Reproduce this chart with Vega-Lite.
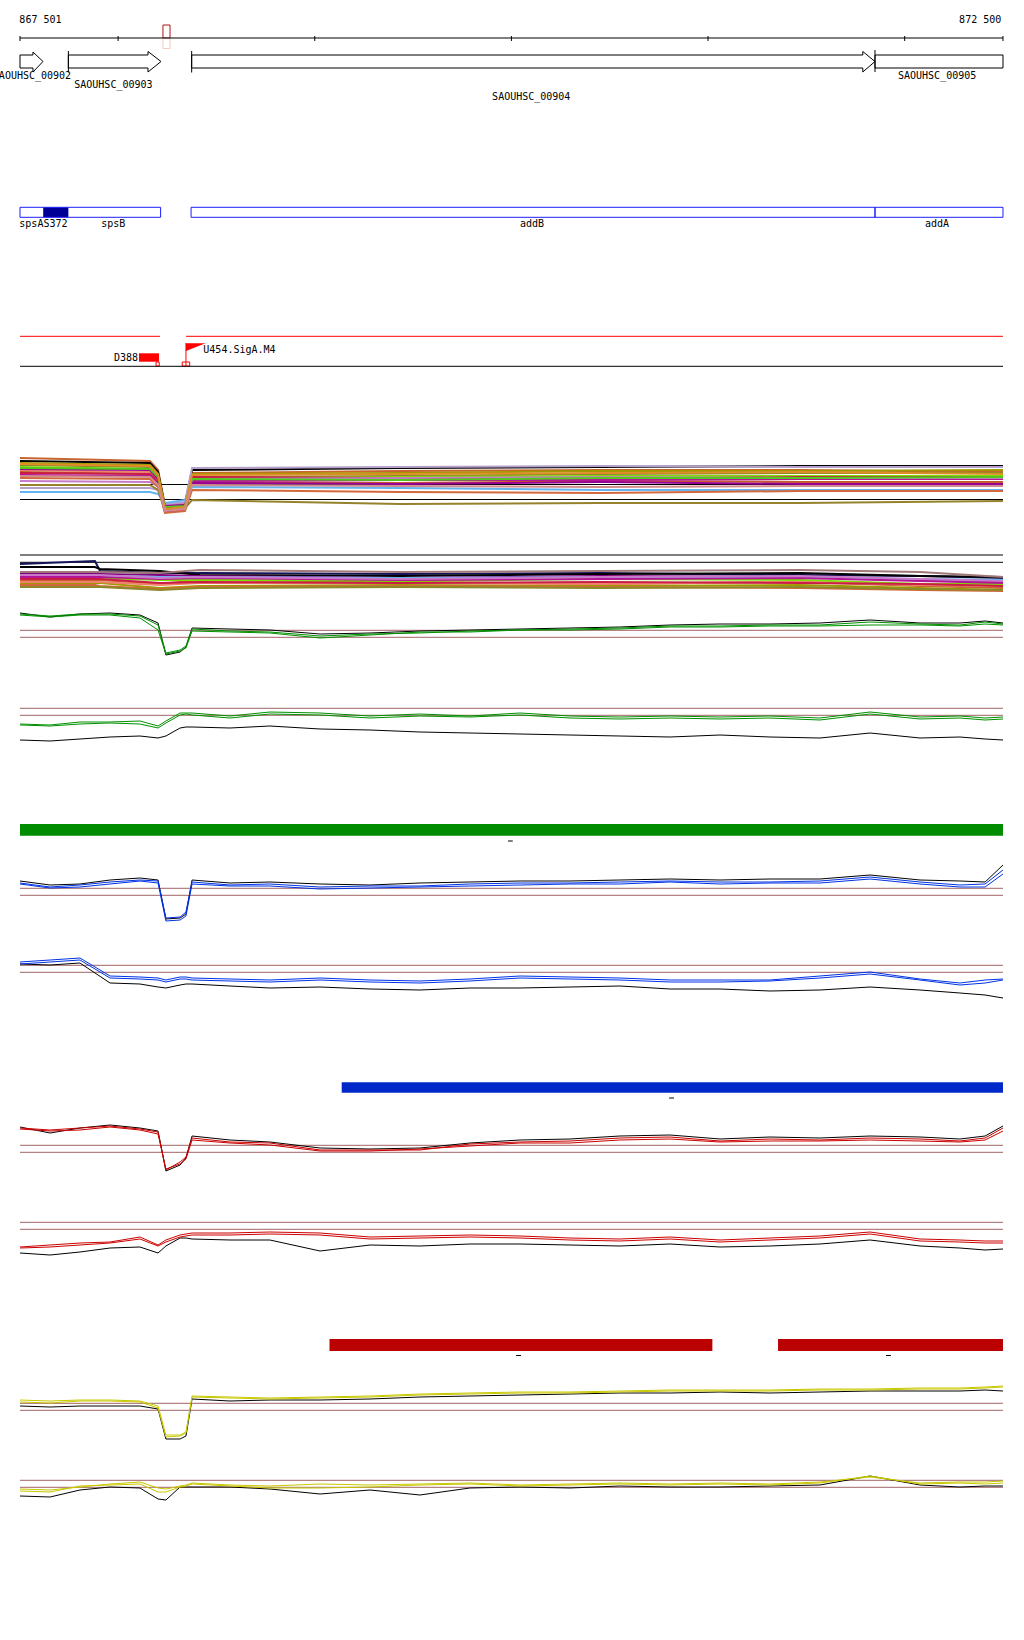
{
"$schema":"https://vega.github.io/schema/vega-lite/v6.json",
"width":1024,"height":1640,"autosize":{"type":"none"},"padding":0,
"background":"white",
"config":{"view":{"stroke":null}},
"datasets":{
"rules":[
{"k":"a","x":867501,"x2":872500,"y":38,"y2":38},
{"k":"a","x":867501,"x2":867501,"y":36,"y2":41},
{"k":"a","x":868000,"x2":868000,"y":36,"y2":41},
{"k":"a","x":869000,"x2":869000,"y":36,"y2":41},
{"k":"a","x":870000,"x2":870000,"y":36,"y2":41},
{"k":"a","x":871000,"x2":871000,"y":36,"y2":41},
{"k":"a","x":872000,"x2":872000,"y":36,"y2":41},
{"k":"a","x":872500,"x2":872500,"y":36,"y2":41},
{"k":"a","x":867747,"x2":867747,"y":51,"y2":72.5},
{"k":"a","x":868374,"x2":868374,"y":51,"y2":72.5},
{"k":"a","x":871849,"x2":871849,"y":50,"y2":72},
{"k":"f","x":867501,"x2":868213,"y":336.3,"y2":336.3},
{"k":"f","x":868345,"x2":872500,"y":336.3,"y2":336.3},
{"k":"a","x":867501,"x2":872500,"y":366.3,"y2":366.3},
{"k":"f","x":868345,"x2":868345,"y":343,"y2":366},
{"k":"a","x":867501,"x2":872500,"y":484.5,"y2":484.5},
{"k":"a","x":867501,"x2":872500,"y":499.5,"y2":499.5},
{"k":"a","x":867501,"x2":872500,"y":555,"y2":555},
{"k":"a","x":867501,"x2":872500,"y":562.3,"y2":562.3},
{"k":"r","x":867501,"x2":872500,"y":630.3,"y2":630.3},
{"k":"r","x":867501,"x2":872500,"y":637.3,"y2":637.3},
{"k":"r","x":867501,"x2":872500,"y":708.3,"y2":708.3},
{"k":"r","x":867501,"x2":872500,"y":715.3,"y2":715.3},
{"k":"r","x":867501,"x2":872500,"y":888.3,"y2":888.3},
{"k":"r","x":867501,"x2":872500,"y":895.3,"y2":895.3},
{"k":"r","x":867501,"x2":872500,"y":965.3,"y2":965.3},
{"k":"r","x":867501,"x2":872500,"y":972.3,"y2":972.3},
{"k":"r","x":867501,"x2":872500,"y":1145.3,"y2":1145.3},
{"k":"r","x":867501,"x2":872500,"y":1152.3,"y2":1152.3},
{"k":"r","x":867501,"x2":872500,"y":1222.3,"y2":1222.3},
{"k":"r","x":867501,"x2":872500,"y":1229.3,"y2":1229.3},
{"k":"r","x":867501,"x2":872500,"y":1403.3,"y2":1403.3},
{"k":"r","x":867501,"x2":872500,"y":1410.3,"y2":1410.3},
{"k":"r","x":867501,"x2":872500,"y":1480.3,"y2":1480.3},
{"k":"r","x":867501,"x2":872500,"y":1487.3,"y2":1487.3},
{"k":"a","x":869983,"x2":870007,"y":841,"y2":841},
{"k":"a","x":870802,"x2":870827,"y":1098,"y2":1098},
{"k":"a","x":870024,"x2":870049,"y":1355.5,"y2":1355.5},
{"k":"a","x":871905,"x2":871930,"y":1355.5,"y2":1355.5}
],
"boxes":[
{"k":"c1","x":867501,"x2":872500,"y":824,"y2":835.7},
{"k":"c2","x":869137,"x2":872500,"y":1082.3,"y2":1092.7},
{"k":"c3","x":869075,"x2":871022,"y":1339,"y2":1351},
{"k":"c3","x":871356,"x2":872500,"y":1339,"y2":1351},
{"k":"D388","x":868106,"x2":868208,"y":353.3,"y2":361.7},
{"k":"spsA","x":867619,"x2":867747,"y":207.3,"y2":217.3}
],
"frames":[
{"k":"cds","x":867501,"x2":868216,"y":207.3,"y2":217.3},
{"k":"cds","x":868371,"x2":871849,"y":207.3,"y2":217.3},
{"k":"cds","x":871849,"x2":872500,"y":207.3,"y2":217.3},
{"k":"view","x":868228,"x2":868264,"y":25,"y2":38},
{"k":"view2","x":868228,"x2":868264,"y":38.5,"y2":48.5},
{"k":"site","x":868193,"x2":868209,"y":362,"y2":366},
{"k":"site","x":868326,"x2":868364,"y":362,"y2":366}
],
"genes":[
{"id":"902","o":1,"x":867501,"y":55},{"id":"902","o":2,"x":867567,"y":55},{"id":"902","o":3,"x":867567,"y":52},{"id":"902","o":4,"x":867618,"y":61.5},{"id":"902","o":5,"x":867567,"y":72},{"id":"902","o":6,"x":867567,"y":68},{"id":"902","o":7,"x":867501,"y":68},{"id":"902","o":8,"x":867501,"y":55},
{"id":"903","o":1,"x":867747,"y":55},{"id":"903","o":2,"x":868152,"y":55},{"id":"903","o":3,"x":868152,"y":51.5},{"id":"903","o":4,"x":868218,"y":61.5},{"id":"903","o":5,"x":868152,"y":72},{"id":"903","o":6,"x":868152,"y":68},{"id":"903","o":7,"x":867747,"y":68},{"id":"903","o":8,"x":867747,"y":55},
{"id":"904","o":1,"x":868374,"y":55},{"id":"904","o":2,"x":871787,"y":55},{"id":"904","o":3,"x":871787,"y":51.5},{"id":"904","o":4,"x":871849,"y":61.5},{"id":"904","o":5,"x":871787,"y":72},{"id":"904","o":6,"x":871787,"y":68},{"id":"904","o":7,"x":868374,"y":68},{"id":"904","o":8,"x":868374,"y":55},
{"id":"905","o":1,"x":871849,"y":55},{"id":"905","o":2,"x":872500,"y":55},{"id":"905","o":3,"x":872500,"y":68},{"id":"905","o":4,"x":871849,"y":68},{"id":"905","o":5,"x":871849,"y":55}
],
"flag":[{"x":868345,"y":343.3,"y2":351},{"x":868445,"y":343.3,"y2":343.3}],
"labels":[
{"t":"867 501","x":867605,"y":20},
{"t":"872 500","x":872384,"y":20},
{"t":"SAOUHSC_00902","x":867562,"y":76},
{"t":"SAOUHSC_00903","x":867976,"y":85},
{"t":"SAOUHSC_00904","x":870101,"y":97},
{"t":"SAOUHSC_00905","x":872165,"y":76},
{"t":"spsAS372","x":867620,"y":224},
{"t":"spsB","x":867975,"y":224},
{"t":"addB","x":870105,"y":224},
{"t":"addA","x":872164,"y":224},
{"t":"D388","x":868040,"y":358},
{"t":"U454.SigA.M4","x":868617,"y":350}
],
"mlines":[
{"s":"m1","x":867501,"y":458},{"s":"m1","x":868162,"y":461},{"s":"m1","x":868203,"y":470},{"s":"m1","x":868238,"y":505},{"s":"m1","x":868340,"y":505},{"s":"m1","x":868376,"y":473},{"s":"m1","x":869433,"y":471},{"s":"m1","x":870451,"y":470},{"s":"m1","x":871468,"y":470},{"s":"m1","x":872500,"y":472},
{"s":"m2","x":867501,"y":461},{"s":"m2","x":868162,"y":463},{"s":"m2","x":868203,"y":472},{"s":"m2","x":868238,"y":507},{"s":"m2","x":868340,"y":504},{"s":"m2","x":868376,"y":470},{"s":"m2","x":869433,"y":468},{"s":"m2","x":870451,"y":467},{"s":"m2","x":871468,"y":466},{"s":"m2","x":872500,"y":466},
{"s":"m3","x":867501,"y":463},{"s":"m3","x":868162,"y":465},{"s":"m3","x":868203,"y":474},{"s":"m3","x":868238,"y":508},{"s":"m3","x":868340,"y":506},{"s":"m3","x":868376,"y":474},{"s":"m3","x":869433,"y":473},{"s":"m3","x":870451,"y":471},{"s":"m3","x":871468,"y":471},{"s":"m3","x":872500,"y":470},
{"s":"m4","x":867501,"y":465},{"s":"m4","x":868162,"y":467},{"s":"m4","x":868203,"y":476},{"s":"m4","x":868238,"y":506},{"s":"m4","x":868340,"y":505},{"s":"m4","x":868376,"y":477},{"s":"m4","x":869433,"y":476},{"s":"m4","x":870451,"y":474},{"s":"m4","x":871468,"y":473},{"s":"m4","x":872500,"y":473},
{"s":"m5","x":867501,"y":467},{"s":"m5","x":868162,"y":469},{"s":"m5","x":868203,"y":478},{"s":"m5","x":868238,"y":509},{"s":"m5","x":868340,"y":507},{"s":"m5","x":868376,"y":478},{"s":"m5","x":869433,"y":477},{"s":"m5","x":870451,"y":476},{"s":"m5","x":871468,"y":476},{"s":"m5","x":872500,"y":476},
{"s":"m6","x":867501,"y":470},{"s":"m6","x":868162,"y":472},{"s":"m6","x":868203,"y":480},{"s":"m6","x":868238,"y":510},{"s":"m6","x":868340,"y":508},{"s":"m6","x":868376,"y":480},{"s":"m6","x":869433,"y":479},{"s":"m6","x":870451,"y":478},{"s":"m6","x":871468,"y":478},{"s":"m6","x":872500,"y":478},
{"s":"m7","x":867501,"y":472},{"s":"m7","x":868162,"y":474},{"s":"m7","x":868203,"y":482},{"s":"m7","x":868238,"y":511},{"s":"m7","x":868340,"y":509},{"s":"m7","x":868376,"y":482},{"s":"m7","x":869433,"y":483},{"s":"m7","x":870451,"y":481},{"s":"m7","x":871468,"y":482},{"s":"m7","x":872500,"y":482},
{"s":"m8","x":867501,"y":473},{"s":"m8","x":868162,"y":474},{"s":"m8","x":868203,"y":483},{"s":"m8","x":868238,"y":508},{"s":"m8","x":868340,"y":507},{"s":"m8","x":868376,"y":477},{"s":"m8","x":869433,"y":478},{"s":"m8","x":870451,"y":479},{"s":"m8","x":871468,"y":477},{"s":"m8","x":872500,"y":477},
{"s":"m9","x":867501,"y":475},{"s":"m9","x":868162,"y":476},{"s":"m9","x":868203,"y":484},{"s":"m9","x":868238,"y":512},{"s":"m9","x":868340,"y":510},{"s":"m9","x":868376,"y":481},{"s":"m9","x":869433,"y":480},{"s":"m9","x":870451,"y":480},{"s":"m9","x":871468,"y":479},{"s":"m9","x":872500,"y":479},
{"s":"m10","x":867501,"y":481},{"s":"m10","x":868162,"y":482},{"s":"m10","x":868203,"y":486},{"s":"m10","x":868238,"y":505},{"s":"m10","x":868340,"y":503},{"s":"m10","x":868376,"y":479},{"s":"m10","x":869433,"y":478},{"s":"m10","x":870451,"y":477},{"s":"m10","x":871468,"y":478},{"s":"m10","x":872500,"y":478},
{"s":"m11","x":867501,"y":488},{"s":"m11","x":868162,"y":488},{"s":"m11","x":868203,"y":490},{"s":"m11","x":868238,"y":504},{"s":"m11","x":868340,"y":502},{"s":"m11","x":868376,"y":468},{"s":"m11","x":869433,"y":467},{"s":"m11","x":870451,"y":466},{"s":"m11","x":871468,"y":467},{"s":"m11","x":872500,"y":467},
{"s":"m12","x":867501,"y":492},{"s":"m12","x":868162,"y":492},{"s":"m12","x":868203,"y":494},{"s":"m12","x":868238,"y":503},{"s":"m12","x":868340,"y":500},{"s":"m12","x":868376,"y":487},{"s":"m12","x":869433,"y":488},{"s":"m12","x":870451,"y":490},{"s":"m12","x":871468,"y":490},{"s":"m12","x":872500,"y":490},
{"s":"m13","x":867501,"y":478},{"s":"m13","x":868162,"y":479},{"s":"m13","x":868203,"y":487},{"s":"m13","x":868238,"y":513},{"s":"m13","x":868340,"y":511},{"s":"m13","x":868376,"y":490},{"s":"m13","x":869433,"y":492},{"s":"m13","x":870451,"y":493},{"s":"m13","x":871468,"y":491},{"s":"m13","x":872500,"y":491},
{"s":"m14","x":867501,"y":469},{"s":"m14","x":868162,"y":470},{"s":"m14","x":868203,"y":479},{"s":"m14","x":868238,"y":506},{"s":"m14","x":868340,"y":505},{"s":"m14","x":868376,"y":483},{"s":"m14","x":869433,"y":484},{"s":"m14","x":870451,"y":482},{"s":"m14","x":871468,"y":484},{"s":"m14","x":872500,"y":484},
{"s":"m15","x":867501,"y":485},{"s":"m15","x":868162,"y":485},{"s":"m15","x":868203,"y":490},{"s":"m15","x":868238,"y":510},{"s":"m15","x":868340,"y":508},{"s":"m15","x":868376,"y":500},{"s":"m15","x":869433,"y":504},{"s":"m15","x":870451,"y":503},{"s":"m15","x":871468,"y":503},{"s":"m15","x":872500,"y":501},
{"s":"m16","x":867501,"y":468},{"s":"m16","x":868162,"y":469},{"s":"m16","x":868203,"y":477},{"s":"m16","x":868238,"y":507},{"s":"m16","x":868340,"y":506},{"s":"m16","x":868376,"y":479},{"s":"m16","x":869433,"y":480},{"s":"m16","x":870451,"y":478},{"s":"m16","x":871468,"y":478},{"s":"m16","x":872500,"y":477},
{"s":"m17","x":867501,"y":464},{"s":"m17","x":868162,"y":466},{"s":"m17","x":868203,"y":475},{"s":"m17","x":868238,"y":509},{"s":"m17","x":868340,"y":507},{"s":"m17","x":868376,"y":475},{"s":"m17","x":869433,"y":474},{"s":"m17","x":870451,"y":473},{"s":"m17","x":871468,"y":472},{"s":"m17","x":872500,"y":474},
{"s":"m18","x":867501,"y":476},{"s":"m18","x":868162,"y":477},{"s":"m18","x":868203,"y":485},{"s":"m18","x":868238,"y":511},{"s":"m18","x":868340,"y":509},{"s":"m18","x":868376,"y":485},{"s":"m18","x":869433,"y":486},{"s":"m18","x":870451,"y":487},{"s":"m18","x":871468,"y":486},{"s":"m18","x":872500,"y":486},
{"s":"n1","x":867501,"y":564},{"s":"n1","x":867882,"y":561},{"s":"n1","x":867908,"y":571},{"s":"n1","x":868213,"y":573},{"s":"n1","x":868416,"y":573},{"s":"n1","x":869433,"y":574},{"s":"n1","x":870451,"y":573},{"s":"n1","x":871468,"y":575},{"s":"n1","x":872078,"y":576},{"s":"n1","x":872500,"y":578},
{"s":"n2","x":867501,"y":567},{"s":"n2","x":867882,"y":567},{"s":"n2","x":867908,"y":569},{"s":"n2","x":868213,"y":571},{"s":"n2","x":868416,"y":575},{"s":"n2","x":869433,"y":576},{"s":"n2","x":870451,"y":574},{"s":"n2","x":871468,"y":573},{"s":"n2","x":872078,"y":576},{"s":"n2","x":872500,"y":577},
{"s":"n3","x":867501,"y":574},{"s":"n3","x":867882,"y":574},{"s":"n3","x":867908,"y":574},{"s":"n3","x":868213,"y":575},{"s":"n3","x":868416,"y":576},{"s":"n3","x":869433,"y":578},{"s":"n3","x":870451,"y":576},{"s":"n3","x":871468,"y":577},{"s":"n3","x":872078,"y":580},{"s":"n3","x":872500,"y":582},
{"s":"n4","x":867501,"y":576},{"s":"n4","x":867882,"y":576},{"s":"n4","x":867908,"y":576},{"s":"n4","x":868213,"y":577},{"s":"n4","x":868416,"y":577},{"s":"n4","x":869433,"y":578},{"s":"n4","x":870451,"y":577},{"s":"n4","x":871468,"y":578},{"s":"n4","x":872078,"y":579},{"s":"n4","x":872500,"y":580},
{"s":"n5","x":867501,"y":580},{"s":"n5","x":867882,"y":580},{"s":"n5","x":867908,"y":580},{"s":"n5","x":868213,"y":584},{"s":"n5","x":868416,"y":580},{"s":"n5","x":869433,"y":582},{"s":"n5","x":870451,"y":584},{"s":"n5","x":871468,"y":582},{"s":"n5","x":872078,"y":586},{"s":"n5","x":872500,"y":588},
{"s":"n6","x":867501,"y":583},{"s":"n6","x":867882,"y":583},{"s":"n6","x":867908,"y":583},{"s":"n6","x":868213,"y":588},{"s":"n6","x":868416,"y":586},{"s":"n6","x":869433,"y":585},{"s":"n6","x":870451,"y":586},{"s":"n6","x":871468,"y":585},{"s":"n6","x":872078,"y":588},{"s":"n6","x":872500,"y":590},
{"s":"n7","x":867501,"y":578},{"s":"n7","x":867882,"y":578},{"s":"n7","x":867908,"y":578},{"s":"n7","x":868213,"y":580},{"s":"n7","x":868416,"y":580},{"s":"n7","x":869433,"y":581},{"s":"n7","x":870451,"y":579},{"s":"n7","x":871468,"y":580},{"s":"n7","x":872078,"y":584},{"s":"n7","x":872500,"y":584},
{"s":"n8","x":867501,"y":582},{"s":"n8","x":867882,"y":582},{"s":"n8","x":867908,"y":582},{"s":"n8","x":868213,"y":585},{"s":"n8","x":868416,"y":583},{"s":"n8","x":869433,"y":583},{"s":"n8","x":870451,"y":584},{"s":"n8","x":871468,"y":582},{"s":"n8","x":872078,"y":585},{"s":"n8","x":872500,"y":586},
{"s":"n9","x":867501,"y":577},{"s":"n9","x":867882,"y":577},{"s":"n9","x":867908,"y":577},{"s":"n9","x":868213,"y":579},{"s":"n9","x":868416,"y":578},{"s":"n9","x":869433,"y":580},{"s":"n9","x":870451,"y":579},{"s":"n9","x":871468,"y":578},{"s":"n9","x":872078,"y":581},{"s":"n9","x":872500,"y":583},
{"s":"n10","x":867501,"y":579},{"s":"n10","x":867882,"y":579},{"s":"n10","x":867908,"y":579},{"s":"n10","x":868213,"y":583},{"s":"n10","x":868416,"y":582},{"s":"n10","x":869433,"y":583},{"s":"n10","x":870451,"y":582},{"s":"n10","x":871468,"y":583},{"s":"n10","x":872078,"y":584},{"s":"n10","x":872500,"y":586},
{"s":"n11","x":867501,"y":585},{"s":"n11","x":867882,"y":585},{"s":"n11","x":867908,"y":586},{"s":"n11","x":868213,"y":589},{"s":"n11","x":868416,"y":587},{"s":"n11","x":869433,"y":586},{"s":"n11","x":870451,"y":587},{"s":"n11","x":871468,"y":588},{"s":"n11","x":872078,"y":590},{"s":"n11","x":872500,"y":591},
{"s":"n12","x":867501,"y":572},{"s":"n12","x":867882,"y":572},{"s":"n12","x":867908,"y":572},{"s":"n12","x":868213,"y":573},{"s":"n12","x":868416,"y":570},{"s":"n12","x":869433,"y":572},{"s":"n12","x":870451,"y":571},{"s":"n12","x":871468,"y":570},{"s":"n12","x":872078,"y":572},{"s":"n12","x":872500,"y":577},
{"s":"n13","x":867501,"y":587},{"s":"n13","x":867882,"y":587},{"s":"n13","x":867908,"y":587},{"s":"n13","x":868213,"y":590},{"s":"n13","x":868416,"y":588},{"s":"n13","x":869433,"y":587},{"s":"n13","x":870451,"y":588},{"s":"n13","x":871468,"y":587},{"s":"n13","x":872078,"y":589},{"s":"n13","x":872500,"y":590},
{"s":"n14","x":867501,"y":575},{"s":"n14","x":867882,"y":575},{"s":"n14","x":867908,"y":575},{"s":"n14","x":868213,"y":578},{"s":"n14","x":868416,"y":577},{"s":"n14","x":869433,"y":579},{"s":"n14","x":870451,"y":577},{"s":"n14","x":871468,"y":576},{"s":"n14","x":872078,"y":579},{"s":"n14","x":872500,"y":581}
],
"plines":[
{"s":"k7","x":867501,"y":613},{"s":"k7","x":867654,"y":617},{"s":"k7","x":867806,"y":614},{"s":"k7","x":867959,"y":613},{"s":"k7","x":868111,"y":615},{"s":"k7","x":868203,"y":623},{"s":"k7","x":868243,"y":655},{"s":"k7","x":868315,"y":652},{"s":"k7","x":868345,"y":647},{"s":"k7","x":868376,"y":628},{"s":"k7","x":868569,"y":629},{"s":"k7","x":868772,"y":630},{"s":"k7","x":869027,"y":634},{"s":"k7","x":869281,"y":633},{"s":"k7","x":869535,"y":631},{"s":"k7","x":869789,"y":630},{"s":"k7","x":870044,"y":629},{"s":"k7","x":870298,"y":628},{"s":"k7","x":870552,"y":627},{"s":"k7","x":870807,"y":625},{"s":"k7","x":871061,"y":624},{"s":"k7","x":871315,"y":624},{"s":"k7","x":871569,"y":623},{"s":"k7","x":871824,"y":620},{"s":"k7","x":872078,"y":623},{"s":"k7","x":872281,"y":623},{"s":"k7","x":872409,"y":621},{"s":"k7","x":872500,"y":623},
{"s":"g7a","x":867501,"y":614},{"s":"g7a","x":867654,"y":616},{"s":"g7a","x":867806,"y":614},{"s":"g7a","x":867959,"y":614},{"s":"g7a","x":868111,"y":616},{"s":"g7a","x":868203,"y":625},{"s":"g7a","x":868243,"y":653},{"s":"g7a","x":868315,"y":650},{"s":"g7a","x":868345,"y":646},{"s":"g7a","x":868376,"y":629},{"s":"g7a","x":868569,"y":631},{"s":"g7a","x":868772,"y":632},{"s":"g7a","x":869027,"y":636},{"s":"g7a","x":869281,"y":634},{"s":"g7a","x":869535,"y":633},{"s":"g7a","x":869789,"y":631},{"s":"g7a","x":870044,"y":630},{"s":"g7a","x":870298,"y":629},{"s":"g7a","x":870552,"y":628},{"s":"g7a","x":870807,"y":626},{"s":"g7a","x":871061,"y":626},{"s":"g7a","x":871315,"y":625},{"s":"g7a","x":871569,"y":625},{"s":"g7a","x":871824,"y":622},{"s":"g7a","x":872078,"y":624},{"s":"g7a","x":872281,"y":625},{"s":"g7a","x":872409,"y":622},{"s":"g7a","x":872500,"y":624},
{"s":"g7b","x":867501,"y":615},{"s":"g7b","x":867654,"y":617},{"s":"g7b","x":867806,"y":615},{"s":"g7b","x":867959,"y":615},{"s":"g7b","x":868111,"y":618},{"s":"g7b","x":868203,"y":630},{"s":"g7b","x":868243,"y":654},{"s":"g7b","x":868315,"y":651},{"s":"g7b","x":868345,"y":648},{"s":"g7b","x":868376,"y":631},{"s":"g7b","x":868569,"y":632},{"s":"g7b","x":868772,"y":633},{"s":"g7b","x":869027,"y":638},{"s":"g7b","x":869281,"y":635},{"s":"g7b","x":869535,"y":632},{"s":"g7b","x":869789,"y":632},{"s":"g7b","x":870044,"y":630},{"s":"g7b","x":870298,"y":630},{"s":"g7b","x":870552,"y":629},{"s":"g7b","x":870807,"y":627},{"s":"g7b","x":871061,"y":627},{"s":"g7b","x":871315,"y":626},{"s":"g7b","x":871569,"y":626},{"s":"g7b","x":871824,"y":625},{"s":"g7b","x":872078,"y":625},{"s":"g7b","x":872281,"y":626},{"s":"g7b","x":872409,"y":624},{"s":"g7b","x":872500,"y":625},
{"s":"k8","x":867501,"y":740},{"s":"k8","x":867654,"y":741},{"s":"k8","x":867806,"y":739},{"s":"k8","x":867959,"y":737},{"s":"k8","x":868111,"y":736},{"s":"k8","x":868203,"y":738},{"s":"k8","x":868243,"y":736},{"s":"k8","x":868315,"y":728},{"s":"k8","x":868345,"y":727},{"s":"k8","x":868376,"y":727},{"s":"k8","x":868569,"y":728},{"s":"k8","x":868772,"y":726},{"s":"k8","x":869027,"y":729},{"s":"k8","x":869281,"y":730},{"s":"k8","x":869535,"y":732},{"s":"k8","x":869789,"y":733},{"s":"k8","x":870044,"y":734},{"s":"k8","x":870298,"y":735},{"s":"k8","x":870552,"y":736},{"s":"k8","x":870807,"y":737},{"s":"k8","x":871061,"y":735},{"s":"k8","x":871315,"y":737},{"s":"k8","x":871569,"y":738},{"s":"k8","x":871824,"y":733},{"s":"k8","x":872078,"y":738},{"s":"k8","x":872281,"y":737},{"s":"k8","x":872409,"y":739},{"s":"k8","x":872500,"y":740},
{"s":"g8a","x":867501,"y":724},{"s":"g8a","x":867654,"y":725},{"s":"g8a","x":867806,"y":722},{"s":"g8a","x":867959,"y":722},{"s":"g8a","x":868111,"y":721},{"s":"g8a","x":868203,"y":726},{"s":"g8a","x":868243,"y":721},{"s":"g8a","x":868315,"y":713},{"s":"g8a","x":868345,"y":713},{"s":"g8a","x":868376,"y":713},{"s":"g8a","x":868569,"y":716},{"s":"g8a","x":868772,"y":712},{"s":"g8a","x":869027,"y":713},{"s":"g8a","x":869281,"y":716},{"s":"g8a","x":869535,"y":714},{"s":"g8a","x":869789,"y":716},{"s":"g8a","x":870044,"y":713},{"s":"g8a","x":870298,"y":716},{"s":"g8a","x":870552,"y":717},{"s":"g8a","x":870807,"y":716},{"s":"g8a","x":871061,"y":717},{"s":"g8a","x":871315,"y":716},{"s":"g8a","x":871569,"y":718},{"s":"g8a","x":871824,"y":712},{"s":"g8a","x":872078,"y":717},{"s":"g8a","x":872281,"y":716},{"s":"g8a","x":872409,"y":718},{"s":"g8a","x":872500,"y":717},
{"s":"g8b","x":867501,"y":725},{"s":"g8b","x":867654,"y":726},{"s":"g8b","x":867806,"y":724},{"s":"g8b","x":867959,"y":723},{"s":"g8b","x":868111,"y":724},{"s":"g8b","x":868203,"y":728},{"s":"g8b","x":868243,"y":723},{"s":"g8b","x":868315,"y":715},{"s":"g8b","x":868345,"y":714},{"s":"g8b","x":868376,"y":715},{"s":"g8b","x":868569,"y":718},{"s":"g8b","x":868772,"y":714},{"s":"g8b","x":869027,"y":715},{"s":"g8b","x":869281,"y":718},{"s":"g8b","x":869535,"y":716},{"s":"g8b","x":869789,"y":717},{"s":"g8b","x":870044,"y":715},{"s":"g8b","x":870298,"y":718},{"s":"g8b","x":870552,"y":719},{"s":"g8b","x":870807,"y":718},{"s":"g8b","x":871061,"y":719},{"s":"g8b","x":871315,"y":718},{"s":"g8b","x":871569,"y":720},{"s":"g8b","x":871824,"y":714},{"s":"g8b","x":872078,"y":719},{"s":"g8b","x":872281,"y":718},{"s":"g8b","x":872409,"y":720},{"s":"g8b","x":872500,"y":719},
{"s":"k10","x":867501,"y":881},{"s":"k10","x":867654,"y":885},{"s":"k10","x":867806,"y":884},{"s":"k10","x":867959,"y":880},{"s":"k10","x":868111,"y":878},{"s":"k10","x":868203,"y":880},{"s":"k10","x":868243,"y":919},{"s":"k10","x":868315,"y":918},{"s":"k10","x":868345,"y":914},{"s":"k10","x":868376,"y":880},{"s":"k10","x":868569,"y":883},{"s":"k10","x":868772,"y":882},{"s":"k10","x":869027,"y":884},{"s":"k10","x":869281,"y":885},{"s":"k10","x":869535,"y":883},{"s":"k10","x":869789,"y":882},{"s":"k10","x":870044,"y":881},{"s":"k10","x":870298,"y":881},{"s":"k10","x":870552,"y":880},{"s":"k10","x":870807,"y":879},{"s":"k10","x":871061,"y":880},{"s":"k10","x":871315,"y":879},{"s":"k10","x":871569,"y":879},{"s":"k10","x":871824,"y":875},{"s":"k10","x":872078,"y":880},{"s":"k10","x":872281,"y":881},{"s":"k10","x":872409,"y":882},{"s":"k10","x":872500,"y":865},
{"s":"b10a","x":867501,"y":883},{"s":"b10a","x":867654,"y":887},{"s":"b10a","x":867806,"y":885},{"s":"b10a","x":867959,"y":882},{"s":"b10a","x":868111,"y":880},{"s":"b10a","x":868203,"y":881},{"s":"b10a","x":868243,"y":918},{"s":"b10a","x":868315,"y":917},{"s":"b10a","x":868345,"y":912},{"s":"b10a","x":868376,"y":882},{"s":"b10a","x":868569,"y":885},{"s":"b10a","x":868772,"y":884},{"s":"b10a","x":869027,"y":887},{"s":"b10a","x":869281,"y":886},{"s":"b10a","x":869535,"y":886},{"s":"b10a","x":869789,"y":884},{"s":"b10a","x":870044,"y":883},{"s":"b10a","x":870298,"y":883},{"s":"b10a","x":870552,"y":882},{"s":"b10a","x":870807,"y":881},{"s":"b10a","x":871061,"y":882},{"s":"b10a","x":871315,"y":882},{"s":"b10a","x":871569,"y":881},{"s":"b10a","x":871824,"y":877},{"s":"b10a","x":872078,"y":882},{"s":"b10a","x":872281,"y":885},{"s":"b10a","x":872409,"y":884},{"s":"b10a","x":872500,"y":870},
{"s":"b10b","x":867501,"y":884},{"s":"b10b","x":867654,"y":888},{"s":"b10b","x":867806,"y":887},{"s":"b10b","x":867959,"y":884},{"s":"b10b","x":868111,"y":881},{"s":"b10b","x":868203,"y":883},{"s":"b10b","x":868243,"y":921},{"s":"b10b","x":868315,"y":920},{"s":"b10b","x":868345,"y":916},{"s":"b10b","x":868376,"y":884},{"s":"b10b","x":868569,"y":886},{"s":"b10b","x":868772,"y":886},{"s":"b10b","x":869027,"y":889},{"s":"b10b","x":869281,"y":888},{"s":"b10b","x":869535,"y":887},{"s":"b10b","x":869789,"y":886},{"s":"b10b","x":870044,"y":885},{"s":"b10b","x":870298,"y":884},{"s":"b10b","x":870552,"y":884},{"s":"b10b","x":870807,"y":882},{"s":"b10b","x":871061,"y":884},{"s":"b10b","x":871315,"y":883},{"s":"b10b","x":871569,"y":883},{"s":"b10b","x":871824,"y":879},{"s":"b10b","x":872078,"y":884},{"s":"b10b","x":872281,"y":887},{"s":"b10b","x":872409,"y":887},{"s":"b10b","x":872500,"y":874},
{"s":"k11","x":867501,"y":964},{"s":"k11","x":867654,"y":965},{"s":"k11","x":867806,"y":963},{"s":"k11","x":867959,"y":983},{"s":"k11","x":868111,"y":984},{"s":"k11","x":868203,"y":987},{"s":"k11","x":868243,"y":988},{"s":"k11","x":868315,"y":985},{"s":"k11","x":868345,"y":984},{"s":"k11","x":868376,"y":984},{"s":"k11","x":868569,"y":986},{"s":"k11","x":868772,"y":988},{"s":"k11","x":869027,"y":987},{"s":"k11","x":869281,"y":989},{"s":"k11","x":869535,"y":990},{"s":"k11","x":869789,"y":988},{"s":"k11","x":870044,"y":988},{"s":"k11","x":870298,"y":987},{"s":"k11","x":870552,"y":986},{"s":"k11","x":870807,"y":989},{"s":"k11","x":871061,"y":989},{"s":"k11","x":871315,"y":991},{"s":"k11","x":871569,"y":990},{"s":"k11","x":871824,"y":987},{"s":"k11","x":872078,"y":990},{"s":"k11","x":872281,"y":993},{"s":"k11","x":872409,"y":995},{"s":"k11","x":872500,"y":998},
{"s":"b11a","x":867501,"y":962},{"s":"b11a","x":867654,"y":960},{"s":"b11a","x":867806,"y":958},{"s":"b11a","x":867959,"y":976},{"s":"b11a","x":868111,"y":977},{"s":"b11a","x":868203,"y":978},{"s":"b11a","x":868243,"y":980},{"s":"b11a","x":868315,"y":977},{"s":"b11a","x":868345,"y":977},{"s":"b11a","x":868376,"y":978},{"s":"b11a","x":868569,"y":979},{"s":"b11a","x":868772,"y":980},{"s":"b11a","x":869027,"y":978},{"s":"b11a","x":869281,"y":980},{"s":"b11a","x":869535,"y":981},{"s":"b11a","x":869789,"y":979},{"s":"b11a","x":870044,"y":976},{"s":"b11a","x":870298,"y":977},{"s":"b11a","x":870552,"y":978},{"s":"b11a","x":870807,"y":980},{"s":"b11a","x":871061,"y":980},{"s":"b11a","x":871315,"y":980},{"s":"b11a","x":871569,"y":976},{"s":"b11a","x":871824,"y":972},{"s":"b11a","x":872078,"y":979},{"s":"b11a","x":872281,"y":983},{"s":"b11a","x":872409,"y":980},{"s":"b11a","x":872500,"y":979},
{"s":"b11b","x":867501,"y":964},{"s":"b11b","x":867654,"y":962},{"s":"b11b","x":867806,"y":960},{"s":"b11b","x":867959,"y":978},{"s":"b11b","x":868111,"y":979},{"s":"b11b","x":868203,"y":980},{"s":"b11b","x":868243,"y":982},{"s":"b11b","x":868315,"y":979},{"s":"b11b","x":868345,"y":979},{"s":"b11b","x":868376,"y":980},{"s":"b11b","x":868569,"y":981},{"s":"b11b","x":868772,"y":982},{"s":"b11b","x":869027,"y":980},{"s":"b11b","x":869281,"y":982},{"s":"b11b","x":869535,"y":983},{"s":"b11b","x":869789,"y":981},{"s":"b11b","x":870044,"y":978},{"s":"b11b","x":870298,"y":979},{"s":"b11b","x":870552,"y":980},{"s":"b11b","x":870807,"y":982},{"s":"b11b","x":871061,"y":982},{"s":"b11b","x":871315,"y":981},{"s":"b11b","x":871569,"y":978},{"s":"b11b","x":871824,"y":974},{"s":"b11b","x":872078,"y":980},{"s":"b11b","x":872281,"y":985},{"s":"b11b","x":872409,"y":983},{"s":"b11b","x":872500,"y":980},
{"s":"k13","x":867501,"y":1127},{"s":"k13","x":867654,"y":1133},{"s":"k13","x":867806,"y":1128},{"s":"k13","x":867959,"y":1125},{"s":"k13","x":868111,"y":1128},{"s":"k13","x":868203,"y":1131},{"s":"k13","x":868243,"y":1171},{"s":"k13","x":868315,"y":1165},{"s":"k13","x":868345,"y":1158},{"s":"k13","x":868376,"y":1136},{"s":"k13","x":868569,"y":1140},{"s":"k13","x":868772,"y":1142},{"s":"k13","x":869027,"y":1148},{"s":"k13","x":869281,"y":1149},{"s":"k13","x":869535,"y":1148},{"s":"k13","x":869789,"y":1143},{"s":"k13","x":870044,"y":1140},{"s":"k13","x":870298,"y":1139},{"s":"k13","x":870552,"y":1136},{"s":"k13","x":870807,"y":1135},{"s":"k13","x":871061,"y":1139},{"s":"k13","x":871315,"y":1137},{"s":"k13","x":871569,"y":1138},{"s":"k13","x":871824,"y":1136},{"s":"k13","x":872078,"y":1137},{"s":"k13","x":872281,"y":1139},{"s":"k13","x":872409,"y":1136},{"s":"k13","x":872500,"y":1126},
{"s":"r13a","x":867501,"y":1128},{"s":"r13a","x":867654,"y":1130},{"s":"r13a","x":867806,"y":1128},{"s":"r13a","x":867959,"y":1126},{"s":"r13a","x":868111,"y":1129},{"s":"r13a","x":868203,"y":1132},{"s":"r13a","x":868243,"y":1170},{"s":"r13a","x":868315,"y":1162},{"s":"r13a","x":868345,"y":1157},{"s":"r13a","x":868376,"y":1138},{"s":"r13a","x":868569,"y":1142},{"s":"r13a","x":868772,"y":1143},{"s":"r13a","x":869027,"y":1150},{"s":"r13a","x":869281,"y":1150},{"s":"r13a","x":869535,"y":1150},{"s":"r13a","x":869789,"y":1144},{"s":"r13a","x":870044,"y":1142},{"s":"r13a","x":870298,"y":1141},{"s":"r13a","x":870552,"y":1138},{"s":"r13a","x":870807,"y":1137},{"s":"r13a","x":871061,"y":1141},{"s":"r13a","x":871315,"y":1139},{"s":"r13a","x":871569,"y":1140},{"s":"r13a","x":871824,"y":1138},{"s":"r13a","x":872078,"y":1139},{"s":"r13a","x":872281,"y":1141},{"s":"r13a","x":872409,"y":1138},{"s":"r13a","x":872500,"y":1128},
{"s":"r13b","x":867501,"y":1129},{"s":"r13b","x":867654,"y":1131},{"s":"r13b","x":867806,"y":1130},{"s":"r13b","x":867959,"y":1127},{"s":"r13b","x":868111,"y":1130},{"s":"r13b","x":868203,"y":1134},{"s":"r13b","x":868243,"y":1169},{"s":"r13b","x":868315,"y":1164},{"s":"r13b","x":868345,"y":1159},{"s":"r13b","x":868376,"y":1140},{"s":"r13b","x":868569,"y":1143},{"s":"r13b","x":868772,"y":1145},{"s":"r13b","x":869027,"y":1151},{"s":"r13b","x":869281,"y":1151},{"s":"r13b","x":869535,"y":1149},{"s":"r13b","x":869789,"y":1146},{"s":"r13b","x":870044,"y":1143},{"s":"r13b","x":870298,"y":1143},{"s":"r13b","x":870552,"y":1140},{"s":"r13b","x":870807,"y":1139},{"s":"r13b","x":871061,"y":1142},{"s":"r13b","x":871315,"y":1141},{"s":"r13b","x":871569,"y":1141},{"s":"r13b","x":871824,"y":1140},{"s":"r13b","x":872078,"y":1141},{"s":"r13b","x":872281,"y":1142},{"s":"r13b","x":872409,"y":1140},{"s":"r13b","x":872500,"y":1131},
{"s":"k14","x":867501,"y":1253},{"s":"k14","x":867654,"y":1255},{"s":"k14","x":867806,"y":1252},{"s":"k14","x":867959,"y":1248},{"s":"k14","x":868111,"y":1247},{"s":"k14","x":868203,"y":1253},{"s":"k14","x":868243,"y":1246},{"s":"k14","x":868315,"y":1238},{"s":"k14","x":868345,"y":1238},{"s":"k14","x":868376,"y":1239},{"s":"k14","x":868569,"y":1240},{"s":"k14","x":868772,"y":1240},{"s":"k14","x":869027,"y":1251},{"s":"k14","x":869281,"y":1245},{"s":"k14","x":869535,"y":1246},{"s":"k14","x":869789,"y":1244},{"s":"k14","x":870044,"y":1244},{"s":"k14","x":870298,"y":1245},{"s":"k14","x":870552,"y":1246},{"s":"k14","x":870807,"y":1244},{"s":"k14","x":871061,"y":1247},{"s":"k14","x":871315,"y":1246},{"s":"k14","x":871569,"y":1244},{"s":"k14","x":871824,"y":1240},{"s":"k14","x":872078,"y":1246},{"s":"k14","x":872281,"y":1248},{"s":"k14","x":872409,"y":1250},{"s":"k14","x":872500,"y":1249},
{"s":"r14a","x":867501,"y":1247},{"s":"r14a","x":867654,"y":1245},{"s":"r14a","x":867806,"y":1243},{"s":"r14a","x":867959,"y":1242},{"s":"r14a","x":868111,"y":1237},{"s":"r14a","x":868203,"y":1245},{"s":"r14a","x":868243,"y":1240},{"s":"r14a","x":868315,"y":1235},{"s":"r14a","x":868345,"y":1234},{"s":"r14a","x":868376,"y":1233},{"s":"r14a","x":868569,"y":1233},{"s":"r14a","x":868772,"y":1232},{"s":"r14a","x":869027,"y":1233},{"s":"r14a","x":869281,"y":1237},{"s":"r14a","x":869535,"y":1236},{"s":"r14a","x":869789,"y":1235},{"s":"r14a","x":870044,"y":1236},{"s":"r14a","x":870298,"y":1238},{"s":"r14a","x":870552,"y":1239},{"s":"r14a","x":870807,"y":1237},{"s":"r14a","x":871061,"y":1240},{"s":"r14a","x":871315,"y":1238},{"s":"r14a","x":871569,"y":1236},{"s":"r14a","x":871824,"y":1232},{"s":"r14a","x":872078,"y":1239},{"s":"r14a","x":872281,"y":1240},{"s":"r14a","x":872409,"y":1241},{"s":"r14a","x":872500,"y":1241},
{"s":"r14b","x":867501,"y":1248},{"s":"r14b","x":867654,"y":1247},{"s":"r14b","x":867806,"y":1245},{"s":"r14b","x":867959,"y":1243},{"s":"r14b","x":868111,"y":1239},{"s":"r14b","x":868203,"y":1246},{"s":"r14b","x":868243,"y":1242},{"s":"r14b","x":868315,"y":1237},{"s":"r14b","x":868345,"y":1236},{"s":"r14b","x":868376,"y":1235},{"s":"r14b","x":868569,"y":1235},{"s":"r14b","x":868772,"y":1234},{"s":"r14b","x":869027,"y":1235},{"s":"r14b","x":869281,"y":1239},{"s":"r14b","x":869535,"y":1238},{"s":"r14b","x":869789,"y":1237},{"s":"r14b","x":870044,"y":1238},{"s":"r14b","x":870298,"y":1240},{"s":"r14b","x":870552,"y":1241},{"s":"r14b","x":870807,"y":1239},{"s":"r14b","x":871061,"y":1242},{"s":"r14b","x":871315,"y":1240},{"s":"r14b","x":871569,"y":1238},{"s":"r14b","x":871824,"y":1234},{"s":"r14b","x":872078,"y":1241},{"s":"r14b","x":872281,"y":1242},{"s":"r14b","x":872409,"y":1243},{"s":"r14b","x":872500,"y":1243},
{"s":"k16","x":867501,"y":1406},{"s":"k16","x":867654,"y":1407},{"s":"k16","x":867806,"y":1406},{"s":"k16","x":867959,"y":1406},{"s":"k16","x":868111,"y":1406},{"s":"k16","x":868203,"y":1409},{"s":"k16","x":868243,"y":1439},{"s":"k16","x":868315,"y":1439},{"s":"k16","x":868345,"y":1436},{"s":"k16","x":868376,"y":1399},{"s":"k16","x":868569,"y":1401},{"s":"k16","x":868772,"y":1400},{"s":"k16","x":869027,"y":1400},{"s":"k16","x":869281,"y":1399},{"s":"k16","x":869535,"y":1397},{"s":"k16","x":869789,"y":1396},{"s":"k16","x":870044,"y":1395},{"s":"k16","x":870298,"y":1394},{"s":"k16","x":870552,"y":1393},{"s":"k16","x":870807,"y":1393},{"s":"k16","x":871061,"y":1392},{"s":"k16","x":871315,"y":1393},{"s":"k16","x":871569,"y":1392},{"s":"k16","x":871824,"y":1391},{"s":"k16","x":872078,"y":1391},{"s":"k16","x":872281,"y":1391},{"s":"k16","x":872409,"y":1390},{"s":"k16","x":872500,"y":1391},
{"s":"y16a","x":867501,"y":1402},{"s":"y16a","x":867654,"y":1403},{"s":"y16a","x":867806,"y":1401},{"s":"y16a","x":867959,"y":1401},{"s":"y16a","x":868111,"y":1402},{"s":"y16a","x":868203,"y":1408},{"s":"y16a","x":868243,"y":1437},{"s":"y16a","x":868315,"y":1436},{"s":"y16a","x":868345,"y":1433},{"s":"y16a","x":868376,"y":1397},{"s":"y16a","x":868569,"y":1398},{"s":"y16a","x":868772,"y":1399},{"s":"y16a","x":869027,"y":1398},{"s":"y16a","x":869281,"y":1397},{"s":"y16a","x":869535,"y":1395},{"s":"y16a","x":869789,"y":1394},{"s":"y16a","x":870044,"y":1393},{"s":"y16a","x":870298,"y":1393},{"s":"y16a","x":870552,"y":1392},{"s":"y16a","x":870807,"y":1391},{"s":"y16a","x":871061,"y":1391},{"s":"y16a","x":871315,"y":1391},{"s":"y16a","x":871569,"y":1390},{"s":"y16a","x":871824,"y":1390},{"s":"y16a","x":872078,"y":1389},{"s":"y16a","x":872281,"y":1389},{"s":"y16a","x":872409,"y":1388},{"s":"y16a","x":872500,"y":1387},
{"s":"y16b","x":867501,"y":1400},{"s":"y16b","x":867654,"y":1401},{"s":"y16b","x":867806,"y":1400},{"s":"y16b","x":867959,"y":1400},{"s":"y16b","x":868111,"y":1401},{"s":"y16b","x":868203,"y":1406},{"s":"y16b","x":868243,"y":1435},{"s":"y16b","x":868315,"y":1435},{"s":"y16b","x":868345,"y":1432},{"s":"y16b","x":868376,"y":1396},{"s":"y16b","x":868569,"y":1397},{"s":"y16b","x":868772,"y":1398},{"s":"y16b","x":869027,"y":1397},{"s":"y16b","x":869281,"y":1396},{"s":"y16b","x":869535,"y":1394},{"s":"y16b","x":869789,"y":1393},{"s":"y16b","x":870044,"y":1392},{"s":"y16b","x":870298,"y":1392},{"s":"y16b","x":870552,"y":1391},{"s":"y16b","x":870807,"y":1390},{"s":"y16b","x":871061,"y":1390},{"s":"y16b","x":871315,"y":1390},{"s":"y16b","x":871569,"y":1389},{"s":"y16b","x":871824,"y":1389},{"s":"y16b","x":872078,"y":1388},{"s":"y16b","x":872281,"y":1388},{"s":"y16b","x":872409,"y":1387},{"s":"y16b","x":872500,"y":1386},
{"s":"k17","x":867501,"y":1496},{"s":"k17","x":867654,"y":1497},{"s":"k17","x":867806,"y":1490},{"s":"k17","x":867959,"y":1487},{"s":"k17","x":868111,"y":1488},{"s":"k17","x":868203,"y":1499},{"s":"k17","x":868243,"y":1500},{"s":"k17","x":868315,"y":1487},{"s":"k17","x":868345,"y":1487},{"s":"k17","x":868376,"y":1487},{"s":"k17","x":868569,"y":1487},{"s":"k17","x":868772,"y":1489},{"s":"k17","x":869027,"y":1494},{"s":"k17","x":869281,"y":1490},{"s":"k17","x":869535,"y":1495},{"s":"k17","x":869789,"y":1488},{"s":"k17","x":870044,"y":1487},{"s":"k17","x":870298,"y":1488},{"s":"k17","x":870552,"y":1486},{"s":"k17","x":870807,"y":1487},{"s":"k17","x":871061,"y":1487},{"s":"k17","x":871315,"y":1486},{"s":"k17","x":871569,"y":1485},{"s":"k17","x":871824,"y":1476},{"s":"k17","x":872078,"y":1485},{"s":"k17","x":872281,"y":1487},{"s":"k17","x":872409,"y":1486},{"s":"k17","x":872500,"y":1486},
{"s":"y17a","x":867501,"y":1491},{"s":"y17a","x":867654,"y":1492},{"s":"y17a","x":867806,"y":1486},{"s":"y17a","x":867959,"y":1485},{"s":"y17a","x":868111,"y":1484},{"s":"y17a","x":868203,"y":1492},{"s":"y17a","x":868243,"y":1492},{"s":"y17a","x":868315,"y":1487},{"s":"y17a","x":868345,"y":1486},{"s":"y17a","x":868376,"y":1484},{"s":"y17a","x":868569,"y":1486},{"s":"y17a","x":868772,"y":1488},{"s":"y17a","x":869027,"y":1488},{"s":"y17a","x":869281,"y":1487},{"s":"y17a","x":869535,"y":1485},{"s":"y17a","x":869789,"y":1484},{"s":"y17a","x":870044,"y":1486},{"s":"y17a","x":870298,"y":1485},{"s":"y17a","x":870552,"y":1484},{"s":"y17a","x":870807,"y":1485},{"s":"y17a","x":871061,"y":1484},{"s":"y17a","x":871315,"y":1485},{"s":"y17a","x":871569,"y":1483},{"s":"y17a","x":871824,"y":1476},{"s":"y17a","x":872078,"y":1484},{"s":"y17a","x":872281,"y":1483},{"s":"y17a","x":872409,"y":1484},{"s":"y17a","x":872500,"y":1483},
{"s":"y17b","x":867501,"y":1489},{"s":"y17b","x":867654,"y":1490},{"s":"y17b","x":867806,"y":1487},{"s":"y17b","x":867959,"y":1484},{"s":"y17b","x":868111,"y":1482},{"s":"y17b","x":868203,"y":1488},{"s":"y17b","x":868243,"y":1489},{"s":"y17b","x":868315,"y":1486},{"s":"y17b","x":868345,"y":1485},{"s":"y17b","x":868376,"y":1483},{"s":"y17b","x":868569,"y":1485},{"s":"y17b","x":868772,"y":1486},{"s":"y17b","x":869027,"y":1484},{"s":"y17b","x":869281,"y":1485},{"s":"y17b","x":869535,"y":1484},{"s":"y17b","x":869789,"y":1483},{"s":"y17b","x":870044,"y":1485},{"s":"y17b","x":870298,"y":1484},{"s":"y17b","x":870552,"y":1483},{"s":"y17b","x":870807,"y":1484},{"s":"y17b","x":871061,"y":1483},{"s":"y17b","x":871315,"y":1484},{"s":"y17b","x":871569,"y":1482},{"s":"y17b","x":871824,"y":1477},{"s":"y17b","x":872078,"y":1483},{"s":"y17b","x":872281,"y":1482},{"s":"y17b","x":872409,"y":1482},{"s":"y17b","x":872500,"y":1481}
]
},
"encoding":{
"x":{"field":"x","type":"quantitative","scale":{"domain":[867399.3,872606.8],"nice":false,"zero":false},"axis":null},
"y":{"field":"y","type":"quantitative","scale":{"domain":[0,1640],"reverse":true,"nice":false,"zero":false},"axis":null}
},
"layer":[
{"data":{"name":"boxes"},"mark":{"type":"rect"},
 "encoding":{"x2":{"field":"x2"},"y2":{"field":"y2"},
  "color":{"field":"k","type":"nominal","legend":null,"scale":{"domain":["c1","c2","c3","D388","spsA"],"range":["#008c00","#0028c8","#bb0000","#ff0000","#000096"]}}}},
{"data":{"name":"frames"},"mark":{"type":"rect","filled":false,"strokeWidth":1},
 "encoding":{"x2":{"field":"x2"},"y2":{"field":"y2"},
  "color":{"field":"k","type":"nominal","legend":null,"scale":{"domain":["cds","view","view2","site"],"range":["#1e1eff","#b41414","#f5c8c0","#ff0000"]}}}},
{"data":{"name":"rules"},"mark":{"type":"rule","strokeWidth":1},
 "encoding":{"x2":{"field":"x2"},"y2":{"field":"y2"},
  "color":{"field":"k","type":"nominal","legend":null,"scale":{"domain":["a","f","r"],"range":["#000000","#ff0000","#a06464"]}}}},
{"data":{"name":"genes"},"mark":{"type":"line","color":"#000000","strokeWidth":1},
 "encoding":{"detail":{"field":"id","type":"nominal"},"order":{"field":"o","type":"quantitative"}}},
{"data":{"name":"flag"},"mark":{"type":"area","color":"#ff0000","opacity":1},
 "encoding":{"y2":{"field":"y2"}}},
{"data":{"name":"mlines"},"mark":{"type":"line","strokeWidth":2},
 "encoding":{"color":{"field":"s","type":"nominal","legend":null,"scale":{
  "domain":["m1","m2","m3","m4","m5","m6","m7","m8","m9","m10","m11","m12","m13","m14","m15","m16","m17","m18","n1","n2","n3","n4","n5","n6","n7","n8","n9","n10","n11","n12","n13","n14"],
  "range":["#c8642d","#000000","#a09a00","#8a8a28","#7ce000","#f0806c","#c85a2a","#c81e46","#b41496","#c87ac8","#b4a0c8","#64b4f0","#d2693c","#960096","#96822d","#50c81e","#e08c28","#d28c8c","#14145a","#000000","#800080","#64b4f0","#c8642d","#a09a00","#7ce000","#f0806c","#b41496","#c81e46","#d2693c","#a07878","#8a8a28","#c87ac8"]}}}},
{"data":{"name":"plines"},"mark":{"type":"line","strokeWidth":1},
 "encoding":{"color":{"field":"s","type":"nominal","legend":null,"scale":{
  "domain":["k7","g7a","g7b","k8","g8a","g8b","k10","b10a","b10b","k11","b11a","b11b","k13","r13a","r13b","k14","r14a","r14b","k16","y16a","y16b","k17","y17a","y17b"],
  "range":["#000000","#009000","#009000","#000000","#009000","#009000","#000000","#0032e6","#0032e6","#000000","#0032e6","#0032e6","#000000","#cc0000","#cc0000","#000000","#cc0000","#cc0000","#000000","#c8c800","#c8c800","#000000","#c8c800","#c8c800"]}}}},
{"data":{"name":"labels"},"mark":{"type":"text","font":"DejaVu Sans Mono","fontSize":10,"color":"#000000","align":"center","baseline":"middle"},
 "encoding":{"text":{"field":"t","type":"nominal"}}}
],
"resolve":{"scale":{"color":"independent"}}
}
